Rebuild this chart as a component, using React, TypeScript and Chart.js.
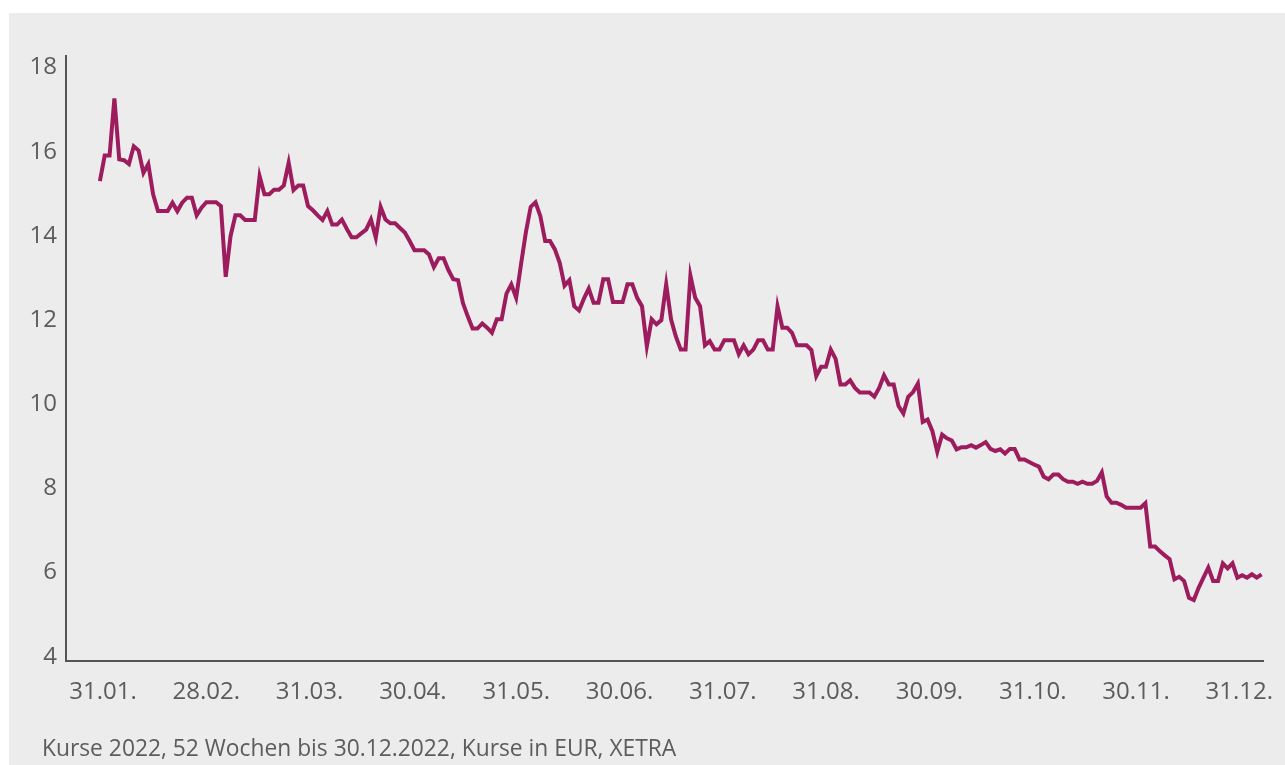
import React, { useEffect, useRef } from "react";
import { Chart, registerables } from "chart.js";

Chart.register(...registerables);

// Tick labels (month ends, evenly spaced on the axis)
const monthLabels = [
  "31.01.", "28.02.", "31.03.", "30.04.", "31.05.", "30.06.",
  "31.07.", "31.08.", "30.09.", "31.10.", "30.11.", "31.12.",
];

const yTicks = [4, 6, 8, 10, 12, 14, 16, 18];

// Daily closing prices (EUR), in four stretches
const pricesJanApr = [
  15.25, 15.86, 15.86, 17.22, 15.77, 15.75, 15.66, 16.08, 15.98, 15.45,
  15.66, 14.94, 14.54, 14.54, 14.54, 14.74, 14.54, 14.74, 14.86, 14.86,
  14.44, 14.62, 14.75, 14.75, 14.75, 14.66, 12.98, 13.95, 14.44, 14.44,
  14.33, 14.33, 14.33, 15.37, 14.94, 14.94, 15.05, 15.05, 15.15, 15.69,
  15.04, 15.15, 15.15, 14.66, 14.56, 14.44, 14.33, 14.54, 14.22, 14.22,
];

const pricesAprJul = [
  14.34, 14.12, 13.92, 13.92, 14.01, 14.1, 14.34, 13.91, 14.64, 14.34,
  14.25, 14.25, 14.14, 14.03, 13.83, 13.61, 13.61, 13.61, 13.51, 13.21,
  13.42, 13.42, 13.14, 12.92, 12.9, 12.36, 12.04, 11.75, 11.75, 11.87,
  11.77, 11.65, 11.97, 11.97, 12.58, 12.8, 12.48, 13.27, 14.03, 14.64,
  14.75, 14.42, 13.83, 13.83, 13.63, 13.31, 12.77, 12.9, 12.28, 12.18,
  12.46, 12.7, 12.36, 12.36, 12.92, 12.92, 12.38, 12.38, 12.38, 12.8,
  12.8,
];

const pricesJulSep = [
  12.48, 12.28, 11.33, 11.97, 11.85, 11.95, 12.8, 11.97, 11.56, 11.25,
  11.25, 13.01, 12.48, 12.28, 11.35, 11.45, 11.25, 11.25, 11.47, 11.47,
  11.47, 11.14, 11.35, 11.14, 11.25, 11.47, 11.47, 11.25, 11.25, 12.28,
  11.77, 11.77, 11.65, 11.35, 11.35, 11.35, 11.24, 10.62, 10.84, 10.84,
  11.25, 11.03, 10.42, 10.42, 10.52, 10.34, 10.23, 10.23, 10.23, 10.13,
  10.34, 10.64, 10.42, 10.42, 9.91, 9.73, 10.13, 10.24, 10.44,
];

const pricesSepDec = [
  9.53, 9.59, 9.31, 8.82, 9.23, 9.14, 9.09, 8.88, 8.93, 8.93,
  8.98, 8.92, 8.98, 9.05, 8.89, 8.84, 8.88, 8.78, 8.89, 8.89,
  8.64, 8.64, 8.58, 8.52, 8.47, 8.23, 8.17, 8.28, 8.28, 8.17,
  8.11, 8.11, 8.06, 8.11, 8.06, 8.06, 8.13, 8.33, 7.76, 7.61,
  7.61, 7.56, 7.49, 7.49, 7.49, 7.49, 7.6, 6.57, 6.57, 6.46,
  6.36, 6.27, 5.79, 5.85, 5.75, 5.35, 5.3, 5.59, 5.83, 6.07,
  5.75, 5.75, 6.17, 6.05, 6.17, 5.83, 5.89, 5.83, 5.91, 5.83,
  5.91,
];

const caption = "Kurse 2022, 52 Wochen bis 30.12.2022, Kurse in EUR, XETRA";

const prices = [...pricesJanApr, ...pricesAprJul, ...pricesJulSep, ...pricesSepDec];

const LINE_COLOR = "#9d1c5d";
const AXIS_COLOR = "#555555";
const TEXT_COLOR = "#5c5c5c";
const BG = "#ececec";
const FONT = "'Open Sans', 'DejaVu Sans', sans-serif";

export default function App() {
  const canvasRef = useRef<HTMLCanvasElement | null>(null);

  useEffect(() => {
    const canvas = canvasRef.current;
    if (!canvas) return;
    const first = -0.03;
    const last = 11.215;
    const n = prices.length;
    const points = prices.map((v, i) => ({
      x: first + (i * (last - first)) / (n - 1),
      y: v,
    }));

    const chart = new Chart(canvas, {
      type: "line",
      data: {
        datasets: [
          {
            data: points,
            borderColor: LINE_COLOR,
            borderWidth: 4,
            pointRadius: 0,
            tension: 0,
            fill: false,
          },
        ],
      },
      options: {
        animation: false,
        responsive: false,
        maintainAspectRatio: false,
        layout: { padding: { left: 0, right: 22, top: 43, bottom: 0 } },
        plugins: {
          legend: { display: false },
          tooltip: { enabled: false },
        },
        scales: {
          x: {
            type: "linear",
            min: -0.358,
            max: 11.229,
            grid: { display: false, drawTicks: false },
            border: { display: true, color: AXIS_COLOR, width: 2 },
            afterBuildTicks: (scale: any) => {
              scale.ticks = monthLabels.map((_, i) => ({ value: i }));
            },
            afterFit: (scale: any) => {
              scale.height = 104;
              scale.paddingLeft = 0;
              scale.paddingRight = 0;
            },
            ticks: {
              autoSkip: false,
              maxRotation: 0,
              padding: 17,
              color: TEXT_COLOR,
              font: { family: FONT, size: 24 },
              callback: (value: any) => monthLabels[Math.round(Number(value))] ?? "",
            },
          },
          y: {
            type: "linear",
            min: 3.85,
            max: 18.226,
            grid: { display: false, drawTicks: false },
            border: { display: true, color: AXIS_COLOR, width: 2 },
            afterBuildTicks: (scale: any) => {
              scale.ticks = yTicks.map((v) => ({ value: v }));
            },
            afterFit: (scale: any) => {
              scale.width = 57;
              scale.paddingTop = 0;
              scale.paddingBottom = 0;
            },
            ticks: {
              padding: 9,
              labelOffset: 2,
              color: TEXT_COLOR,
              font: { family: FONT, size: 24 },
              callback: (value: any) => String(value),
            },
          },
        },
      },
    });
    return () => chart.destroy();
  }, []);

  return (
    <div
      style={{
        position: "fixed",
        left: 9,
        top: 13,
        right: 0,
        bottom: 0,
        background: BG,
        overflow: "hidden",
      }}
    >
      <canvas
        ref={canvasRef}
        width={1276}
        height={752}
        style={{ display: "block", width: 1276, height: 752 }}
      />
      <div
        style={{
          position: "absolute",
          left: 33,
          top: 720,
          fontFamily: FONT,
          fontSize: 22.8,
          lineHeight: "30px",
          color: TEXT_COLOR,
          whiteSpace: "nowrap",
        }}
      >
        {caption}
      </div>
    </div>
  );
}
